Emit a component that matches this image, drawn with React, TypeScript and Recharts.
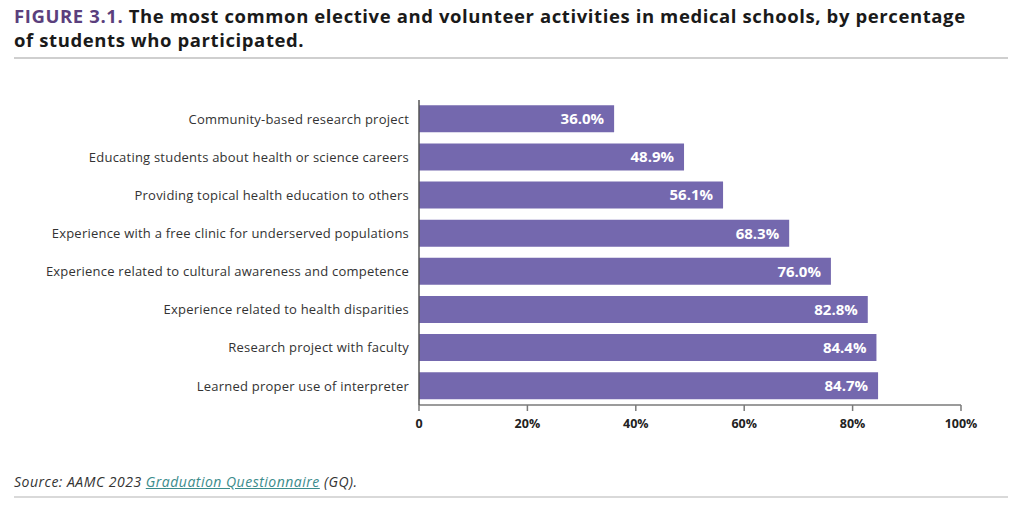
import { Bar, BarChart, LabelList, XAxis, YAxis } from "recharts";

const activities = [
  "Community-based research project",
  "Educating students about health or science careers",
  "Providing topical health education to others",
  "Experience with a free clinic for underserved populations",
  "Experience related to cultural awareness and competence",
  "Experience related to health disparities",
  "Research project with faculty",
  "Learned proper use of interpreter"
];

const percentages = [36.0, 48.9, 56.1, 68.3, 76.0, 82.8, 84.4, 84.7];

const xTicks = [0, 20, 40, 60, 80, 100];

const FONT = "'Open Sans', 'Noto Sans', sans-serif";

export default function App(): JSX.Element {
  const chartData = activities.map((activity, index) => ({
    activity,
    value: percentages[index]
  }));

  return (
    <div
      style={{
        position: "relative",
        width: 1024,
        height: 519,
        fontFamily: FONT,
        background: "#fff"
      }}
    >
      <style>{"body{margin:0}"}</style>

      <div
        style={{
          position: "absolute",
          left: 14,
          top: 4,
          width: 1005,
          fontSize: 18.5,
          letterSpacing: 0.6,
          fontWeight: 700,
          lineHeight: "24px",
          color: "#1a1a1a"
        }}
      >
        <span style={{ color: "#5b3f7d" }}>FIGURE 3.1.</span> The most common
        elective and volunteer activities in medical schools, by percentage
        <br />
        of students who participated.
      </div>

      <div
        style={{
          position: "absolute",
          left: 14,
          top: 57,
          width: 994,
          height: 2,
          background: "#cfcfcf"
        }}
      />

      <div style={{ position: "absolute", left: 0, top: 90 }}>
        <BarChart
          width={1024}
          height={350}
          data={chartData}
          layout="vertical"
          barCategoryGap="14%"
          margin={{ top: 10, right: 63, bottom: 5, left: 0 }}
        >
          <XAxis
            type="number"
            domain={[0, 100]}
            ticks={xTicks}
            tickFormatter={(value: number) => (value === 0 ? "0" : `${value}%`)}
            axisLine={{ stroke: "#7a7a7a", strokeWidth: 1.5 }}
            tickLine={{ stroke: "#7a7a7a", strokeWidth: 1.5 }}
            tickSize={6}
            tickMargin={8}
            height={30}
            tick={{ fill: "#222", fontSize: 12.5, fontWeight: 700 }}
          />

          <YAxis
            type="category"
            dataKey="activity"
            width={419}
            axisLine={{ stroke: "#555", strokeWidth: 1.5 }}
            tickLine={false}
            tickSize={0}
            tickMargin={10}
            tick={{ fill: "#333", fontSize: 13, letterSpacing: 0.22 }}
          />

          <Bar dataKey="value" fill="#7468ae" isAnimationActive={false}>
            <LabelList
              dataKey="value"
              position="insideRight"
              offset={10}
              formatter={(value: number) => `${value.toFixed(1)}%`}
              style={{ fill: "#fff", fontSize: 15, fontWeight: 700 }}
            />
          </Bar>
        </BarChart>
      </div>

      <div
        style={{
          position: "absolute",
          left: 14,
          top: 472,
          fontSize: 14,
          letterSpacing: 0.5,
          fontStyle: "italic",
          color: "#333"
        }}
      >
        Source: AAMC 2023{" "}
        <span style={{ color: "#3b8c8c", textDecoration: "underline" }}>
          Graduation Questionnaire
        </span>{" "}
        (GQ).
      </div>

      <div
        style={{
          position: "absolute",
          left: 14,
          top: 496,
          width: 994,
          height: 2,
          background: "#d9d9d9"
        }}
      />
    </div>
  );
}
